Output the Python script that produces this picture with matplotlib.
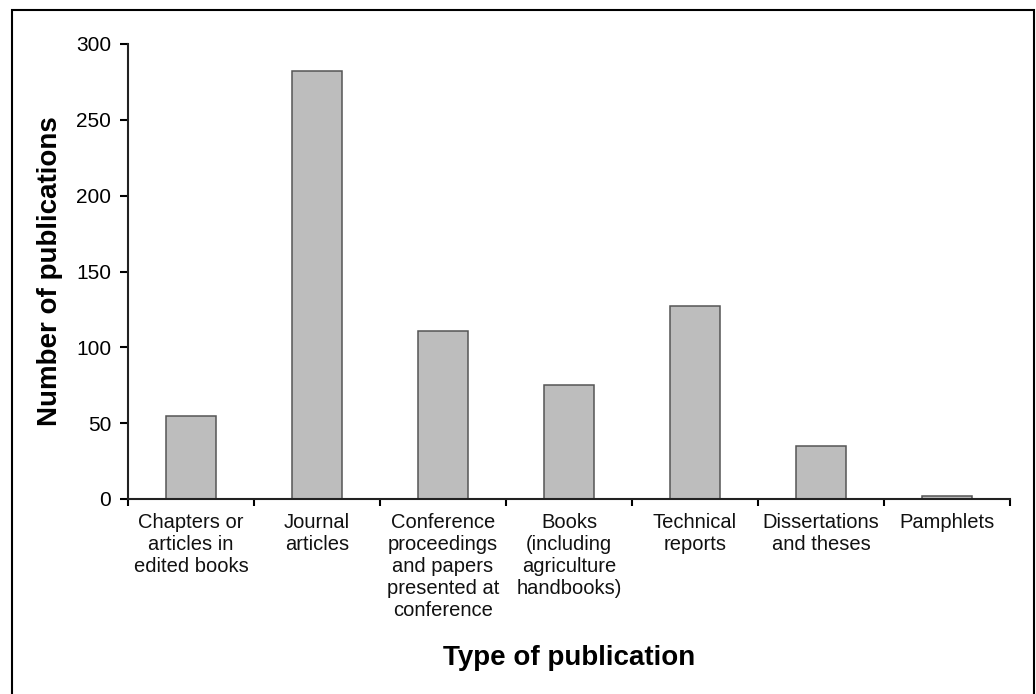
import matplotlib
matplotlib.use('Agg')
import matplotlib.pyplot as plt
from matplotlib.patches import Rectangle

plt.rcParams['font.family'] = ['Liberation Sans', 'DejaVu Sans']

# data
categories = ['Chapters or\narticles in\nedited books',
              'Journal\narticles',
              'Conference\nproceedings\nand papers\npresented at\nconference',
              'Books\n(including\nagriculture\nhandbooks)',
              'Technical\nreports',
              'Dissertations\nand theses',
              'Pamphlets']
counts = [55, 282, 111, 75, 127, 35, 2]
y_ticks = [0, 50, 100, 150, 200, 250, 300]

fig = plt.figure(figsize=(10.36, 6.94), dpi=100)
ax = fig.add_axes([128/1036, 1 - 499/694, (1010 - 128)/1036, (499 - 44)/694])

x = list(range(len(categories)))
ax.bar(x, counts, width=0.4, color='#bdbdbd', edgecolor='#555555', linewidth=1.1)

ax.set_xlim(-0.5, len(categories) - 0.5)
ax.set_ylim(0, 300)
ax.set_yticks(y_ticks)
ax.set_xticks(x)
ax.set_xticklabels(categories, fontsize=14.5, linespacing=1.2)
ax.set_xticks([i - 0.5 for i in range(len(categories) + 1)], minor=True)
ax.tick_params(axis='x', which='major', length=0, pad=10, colors='#111111')
ax.tick_params(axis='x', which='minor', length=5, width=1.5, direction='out')
ax.tick_params(axis='y', labelsize=15, length=6, width=1.5, direction='out', pad=6)

for s in ['top', 'right']:
    ax.spines[s].set_visible(False)
for s in ['left', 'bottom']:
    ax.spines[s].set_linewidth(1.5)
    ax.spines[s].set_color('#222222')

fig.text(50/1036, 1 - 271/694, 'Number of publications', rotation=90,
         ha='center', va='center', fontsize=20, fontweight='bold')
fig.text((128 + 1010)/2/1036, 1 - 658/694, 'Type of publication',
         ha='center', va='center', fontsize=20, fontweight='bold')

# outer frame
fig.patches.append(Rectangle((12/1036, -0.02), (1034 - 12)/1036, 1.02 - 10/694,
                             transform=fig.transFigure, fill=False,
                             edgecolor='black', linewidth=1.5))

fig.savefig('out.png', dpi=100)
